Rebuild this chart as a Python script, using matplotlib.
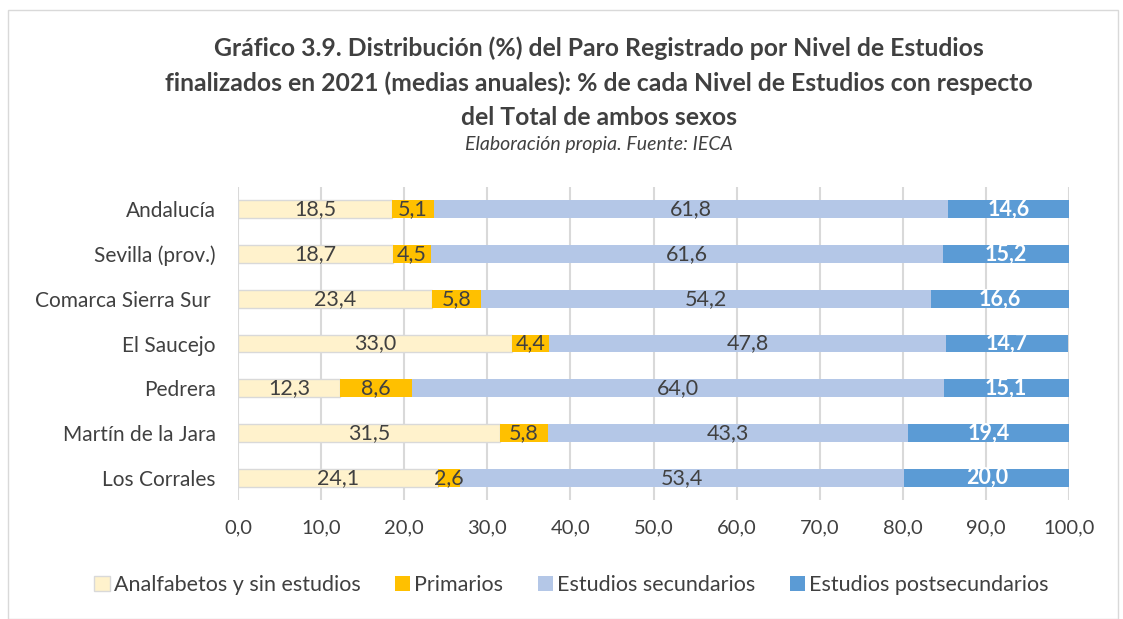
import numpy as np
import matplotlib.pyplot as plt
from matplotlib.patches import Rectangle

plt.rcParams['font.family'] = ['Lato', 'DejaVu Sans']

# Datos (%)
zonas = ['Andalucía', 'Sevilla (prov.)', 'Comarca Sierra Sur ', 'El Saucejo',
         'Pedrera', 'Martín de la Jara', 'Los Corrales']
analfabetos = [18.5, 18.7, 23.4, 33.0, 12.3, 31.5, 24.1]
primarios = [5.1, 4.5, 5.8, 4.4, 8.6, 5.8, 2.6]
secundarios = [61.8, 61.6, 54.2, 47.8, 64.0, 43.3, 53.4]
postsecundarios = [14.6, 15.2, 16.6, 14.7, 15.1, 19.4, 20.0]
series = ['Analfabetos y sin estudios', 'Primarios', 'Estudios secundarios',
          'Estudios postsecundarios']

colores = ['#FFF2CC', '#FFC000', '#B4C7E7', '#5B9BD5']
txt = '#404040'

fig = plt.figure(figsize=(11.23, 6.19), dpi=100)
ax = fig.add_axes([238/1123, 1-500/619, (1069-238)/1123, (500-187)/619])

y = np.arange(len(zonas))
izq = np.zeros(len(zonas))
datos = [analfabetos, primarios, secundarios, postsecundarios]
for i, vals in enumerate(datos):
    vals = np.array(vals)
    ec = '#D9D9D9' if i == 0 else colores[i]
    ax.barh(y, vals, left=izq, height=0.4, color=colores[i], edgecolor=ec,
            linewidth=1 if i == 0 else 0, label=series[i], zorder=3)
    for yy, l, v in zip(y, izq, vals):
        etiqueta = f'{v:.1f}'.replace('.', ',')
        if i == 3:
            ax.text(l + v/2, yy, etiqueta, ha='center', va='center',
                    color='white', fontsize=15.5, fontweight='bold', zorder=4)
        else:
            ax.text(l + v/2, yy, etiqueta, ha='center', va='center',
                    color=txt, fontsize=15.5, zorder=4)
    izq = izq + vals

ax.set_xlim(0, 100)
ax.set_ylim(len(zonas) - 0.5, -0.5)
ax.set_yticks(y)
ax.set_yticklabels(zonas, fontsize=15, color=txt)
ax.set_xticks(np.arange(0, 101, 10))
ax.set_xticklabels([f'{v:.1f}'.replace('.', ',') for v in np.arange(0, 101, 10)],
                   fontsize=14.5, color=txt)
ax.tick_params(length=0, axis='both')
ax.tick_params(axis='x', pad=14)
ax.tick_params(axis='y', pad=16)
ax.grid(axis='x', color='#D9D9D9', linewidth=1.5, zorder=0)
for s in ax.spines.values():
    s.set_visible(False)

fig.text(0.533, 1-83/619, 'Gráfico 3.9. Distribución (%) del Paro Registrado por Nivel de Estudios\n'
         'finalizados en 2021 (medias anuales): % de cada Nivel de Estudios con respecto\n'
         'del Total de ambos sexos', ha='center', va='center', fontsize=17.8,
         fontweight='bold', color=txt, linespacing=1.58)
fig.text(0.533, 1-145/619, 'Elaboración propia. Fuente: IECA', ha='center', va='center',
         fontsize=14, style='italic', color=txt)

fig.legend(loc='center', bbox_to_anchor=(0.509, 1-585/619), ncol=4, frameon=False,
           fontsize=15.5, handlelength=0.7, handleheight=0.7, handletextpad=0.2,
           columnspacing=1.6, labelcolor=txt)

fig.patches.append(Rectangle((8/1123, 0), 1110/1123, 1-10/619, transform=fig.transFigure,
                             fill=False, edgecolor='#D9D9D9', linewidth=1))

fig.savefig('out.png', dpi=100)
